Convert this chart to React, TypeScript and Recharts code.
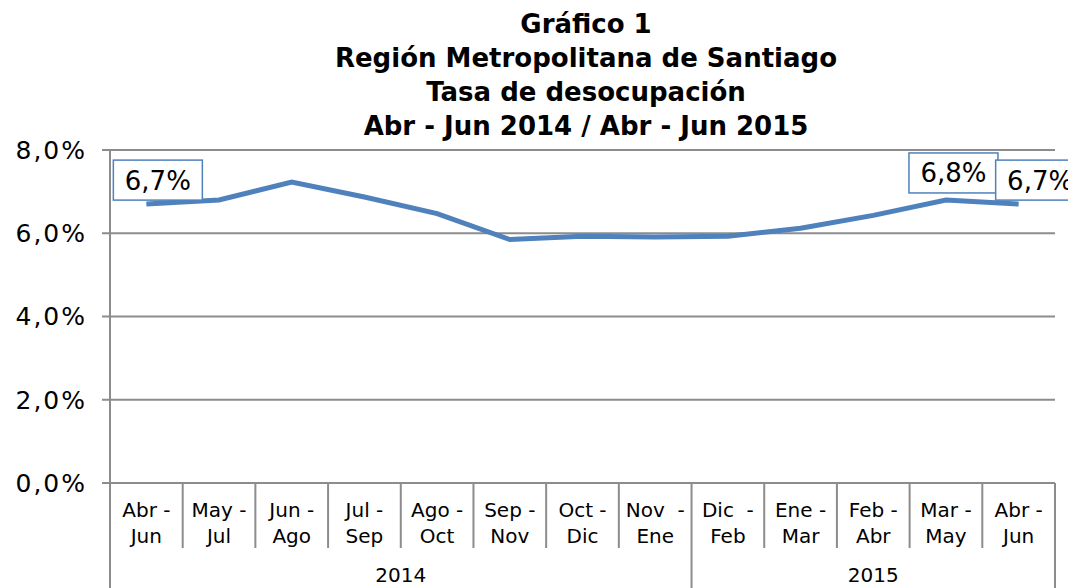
import React from "react";
import { LineChart, Line, XAxis, YAxis, CartesianGrid, LabelList } from "recharts";

const periodTop = ["Abr -", "May -", "Jun -", "Jul -", "Ago -", "Sep -", "Oct -", "Nov  -", "Dic  -", "Ene -", "Feb -", "Mar -", "Abr -"];
const periodBottom = ["Jun", "Jul", "Ago", "Sep", "Oct", "Nov", "Dic", "Ene", "Feb", "Mar", "Abr", "May", "Jun"];
const years = ["2014", "2014", "2014", "2014", "2014", "2014", "2014", "2014", "2015", "2015", "2015", "2015", "2015"];
const rate = [6.7, 6.8, 7.23, 6.87, 6.47, 5.85, 5.93, 5.91, 5.93, 6.12, 6.43, 6.8, 6.7];
const labeledIdx = [0, 11, 12];
const yTicks = [0, 2, 4, 6, 8];
const titleLines = ["Gráfico 1", "Región Metropolitana de Santiago", "Tasa de desocupación", "Abr - Jun 2014 / Abr - Jun 2015"];

const data = rate.map((v, i) => ({ key: String(i), top: periodTop[i], bottom: periodBottom[i], year: years[i], value: v }));

const CHART_W = 1068;
const CHART_H = 580;
const MARGIN = { top: 142, right: 21, bottom: 0, left: 0 };
const YAXIS_W = 102;
const XAXIS_H = 105;
const PLOT_W = CHART_W - MARGIN.left - MARGIN.right - YAXIS_W;
const BW = PLOT_W / data.length;

const FONT = "'DejaVu Sans', Verdana, sans-serif";
const GRID = "#8c8c8c";
const BLUE = "#4F81BD";

const fmt = (v: number) => v.toFixed(1).replace(".", ",") + "%";

const XTick = (props: any) => {
  const { x, y, index } = props;
  const d = data[index];
  if (!d) return null;
  const left = x - BW / 2;
  const right = x + BW / 2;
  const yearStart = index === 0 || data[index - 1].year !== d.year;
  const yearEnd = index === data.length - 1;
  let groupCount = 0;
  if (yearStart) {
    for (let j = index; j < data.length && data[j].year === d.year; j++) groupCount++;
  }
  return (
    <g>
      <line x1={left} x2={left} y1={y} y2={y + (yearStart ? XAXIS_H : 65)} stroke={GRID} strokeWidth={2} />
      {yearEnd && <line x1={right} x2={right} y1={y} y2={y + XAXIS_H} stroke={GRID} strokeWidth={2} />}
      <text x={x} y={y + 34} textAnchor="middle" fontFamily={FONT} fontSize={20} fill="#000" style={{ whiteSpace: "pre" }}>{d.top}</text>
      <text x={x} y={y + 60} textAnchor="middle" fontFamily={FONT} fontSize={20} fill="#000">{d.bottom}</text>
      {yearStart && (
        <text x={left + (groupCount * BW) / 2} y={y + 99} textAnchor="middle" fontFamily={FONT} fontSize={20} fill="#000">{d.year}</text>
      )}
    </g>
  );
};

const labelOffsets: Record<number, { dx: number; dy: number }> = {
  0: { dx: -33, dy: -44 },
  11: { dx: -37, dy: -47 },
  12: { dx: -23, dy: -44 },
};

const DataLabel = (props: any) => {
  const { x, y, value, index } = props;
  if (!labeledIdx.includes(index)) return null;
  const o = labelOffsets[index];
  const w = 89;
  const h = 40;
  const bx = x + o.dx;
  const by = y + o.dy;
  return (
    <g>
      <rect x={bx} y={by} width={w} height={h} fill="#fff" stroke={BLUE} strokeWidth={1.5} />
      <text x={bx + w / 2} y={by + h / 2 + 9.5} textAnchor="middle" fontFamily={FONT} fontSize={26} fill="#000">{fmt(value)}</text>
    </g>
  );
};

export default function App() {
  return (
    <div style={{ position: "relative", width: CHART_W, height: CHART_H }}>
      <div
        style={{
          position: "absolute",
          left: 0,
          top: -1,
          width: 1156,
          textAlign: "center",
          fontFamily: FONT,
          fontWeight: "bold",
          fontSize: 26,
          lineHeight: "34px",
          color: "#000",
        }}
      >
        {titleLines.map((t) => (
          <div key={t}>{t}</div>
        ))}
      </div>
      <LineChart width={CHART_W} height={CHART_H} data={data} margin={MARGIN}>
        <CartesianGrid vertical={false} stroke={GRID} strokeWidth={2} />
        <XAxis
          dataKey="key"
          height={XAXIS_H}
          tickSize={0}
          tickMargin={0}
          padding={{ left: BW / 2, right: BW / 2 }}
          axisLine={{ stroke: GRID, strokeWidth: 2 }}
          tickLine={false}
          tick={<XTick />}
          interval={0}
        />
        <YAxis
          width={YAXIS_W}
          domain={[0, 8]}
          ticks={yTicks}
          tickFormatter={fmt}
          tickSize={8}
          tickMargin={15}
          axisLine={{ stroke: GRID, strokeWidth: 2 }}
          tickLine={{ stroke: GRID, strokeWidth: 2 }}
          tick={{ fontFamily: FONT, fontSize: 25, letterSpacing: 2, fill: "#000" }}
        />
        <Line
          type="linear"
          dataKey="value"
          stroke={BLUE}
          strokeWidth={5}
          dot={false}
          activeDot={false}
          isAnimationActive={false}
        >
          <LabelList dataKey="value" content={<DataLabel />} />
        </Line>
      </LineChart>
    </div>
  );
}
